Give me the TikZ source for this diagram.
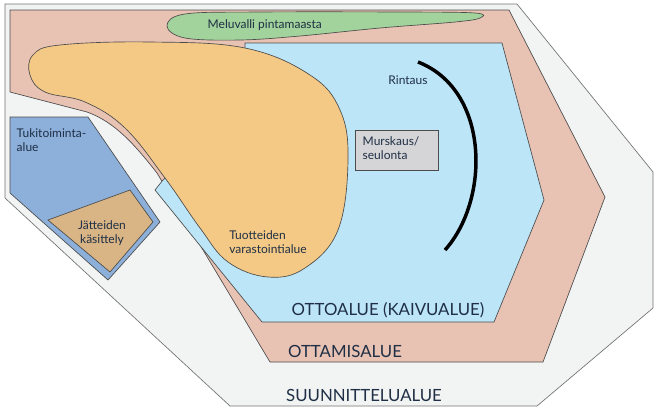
\documentclass[tikz,border=0pt]{standalone}
\usepackage{fontspec}
\setmainfont{Lato}
\definecolor{cgrey}{HTML}{F2F3F3}
\definecolor{cpink}{HTML}{E8C2B3}
\definecolor{cblue}{HTML}{BDE5F8}
\definecolor{cyel}{HTML}{F3C985}
\definecolor{cgreen}{HTML}{A3D39C}
\definecolor{ctuki}{HTML}{8DB0DB}
\definecolor{cjat}{HTML}{D9B585}
\definecolor{cbox}{HTML}{D5D5D7}
\definecolor{ctext}{HTML}{1F2F45}
\begin{document}
\begin{tikzpicture}[x=0.75pt,y=-0.75pt,
  area/.style={draw=black!70,line width=0.5pt},
  small/.style={font=\fontsize{9}{10.5}\selectfont,text=ctext,align=left},
  big/.style={font=\fontsize{12.6}{14}\selectfont,text=ctext}]
\useasboundingbox[fill=white] (0,0) rectangle (659,412);
\path[area,fill=cgrey,draw=black!55] (5,4) -- (517,4) -- (653,172) -- (653,308) -- (537,406) -- (230,406) -- (5,198) -- cycle;
\path[area,fill=cpink] (10,10) -- (509,10) -- (605,197) -- (543,362) -- (270,362) -- (157,173) .. controls (135,145) and (115,122) .. (87,112) -- (10,92) -- cycle;
\path[area,fill=cblue] (245,43) -- (502,43) -- (544,200) -- (494,322) -- (262,322) -- (155,190) -- (163,180) -- (245,100) -- cycle;
\path[area,fill=cgreen] plot[smooth cycle,tension=0.6] coordinates {(167,26) (185,14) (260,12) (400,12) (475,13) (480,18) (455,22) (380,28) (300,36) (240,40) (185,38)};
\path[area,fill=cyel] plot[smooth cycle,tension=0.65] coordinates {(33,55) (60,45) (150,42) (245,48) (310,75) (340,110) (348,160) (338,230) (305,268) (268,277) (228,262) (200,228) (165,178) (125,128) (85,102) (45,92) (30,75)};
\path[area,fill=ctuki] (10,117) -- (88,117) -- (160,222) -- (108,280) -- (10,193) -- cycle;
\path[area,fill=cjat] (48,220) -- (130,190) -- (153,222) -- (110,272) -- cycle;
\node[area,fill=cbox,minimum width=62pt,minimum height=30pt,inner sep=0pt] (murs) at (396.5,150) {};
\node[small,anchor=north west] (murst) at (358,132) {Murskaus/\\seulonta};
\draw[line width=2.6pt] (418,62) .. controls (490,90) and (490,200) .. (445,250);
\node[small] (rint) at (408,80) {Rintaus};
\node[small,anchor=west] (meluv) at (203,25) {Meluvalli pintamaasta};
\node[small,anchor=north west] (tuki) at (12,124) {Tukitoiminta-\\alue};
\node[small,align=center] (jat) at (102,233) {Jätteiden\\käsittely};
\node[small] (tuot) at (268,242) {Tuotteiden\\varastointialue};
\node[big] (otto) at (388,310) {OTTOALUE (KAIVUALUE)};
\node[big] (ottam) at (345,351) {OTTAMISALUE};
\node[big] (suun) at (364,395) {SUUNNITTELUALUE};
\end{tikzpicture}
\end{document}
